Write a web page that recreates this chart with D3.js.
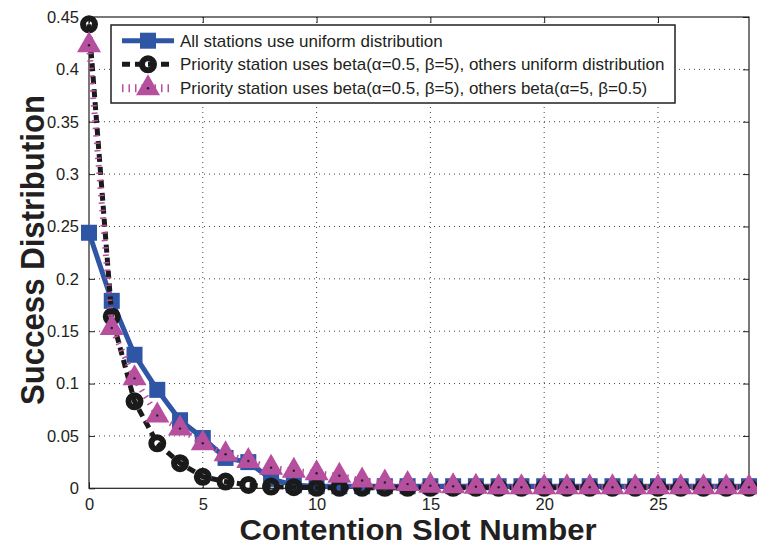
<!DOCTYPE html>
<html><head><meta charset="utf-8">
<script src="https://cdn.jsdelivr.net/npm/d3@7"></script>
<style>body{margin:0;background:#fff}svg{display:block}text{font-family:"Liberation Sans",Arial,sans-serif;fill:#231f20}</style>
</head><body>
<script>
const slots = [0,1,2,3,4,5,6,7,8,9,10,11,12,13,14,15,16,17,18,19,20,21,22,23,24,25,26,27,28,29];
const uniformAll = [0.244,0.179,0.1275,0.094,0.065,0.048,0.029,0.025,0.009,0.003,0.002,0.002,0.002,0.002,0.002,0.002,0.002,0.002,0.002,0.002,0.002,0.002,0.002,0.002,0.002,0.002,0.002,0.002,0.002,0.002];
const betaPriorityUniform = [0.443,0.164,0.083,0.043,0.024,0.011,0.0064,0.0032,0.0016,0.001,0.0005,0.0005,0.0005,0.0005,0.0005,0.0005,0.0005,0.0005,0.0005,0.0005,0.0005,0.0005,0.0005,0.0005,0.0005,0.0005,0.0005,0.0005,0.0005,0.0005];
const betaPriorityBeta = [0.423,0.153,0.105,0.0695,0.057,0.043,0.0325,0.026,0.0197,0.0168,0.0143,0.012,0.0075,0.0055,0.004,0.0025,0.002,0.0015,0.001,0.001,0.001,0.001,0.001,0.001,0.001,0.001,0.001,0.001,0.001,0.001];
const legendLabels = [
  "All stations use uniform distribution",
  "Priority station uses beta(\u03B1=0.5, \u03B2=5), others uniform distribution",
  "Priority station uses beta(\u03B1=0.5, \u03B2=5), others beta(\u03B1=5, \u03B2=0.5)"
];
const xTicks = [0,5,10,15,20,25];
const yTicks = [0,0.05,0.1,0.15,0.2,0.25,0.3,0.35,0.4,0.45];
const xTitle = "Contention Slot Number";
const yTitle = "Success Distribution";

const W = 757, H = 547;
const L = 89, R = 749, T = 17, B = 488.3;
const svg = d3.select("body").append("svg").attr("width", W).attr("height", H);
const x = d3.scaleLinear().domain([0, 29]).range([L, R]);
const y = d3.scaleLinear().domain([0, 0.45]).range([B, T]);

// grid
const grid = svg.append("g").attr("stroke", "#444").attr("stroke-width", 1).attr("stroke-dasharray", "1,4");
xTicks.filter(d => d > 0).forEach(d => grid.append("line").attr("x1", x(d)).attr("x2", x(d)).attr("y1", T).attr("y2", B));
yTicks.filter(d => d > 0 && d < 0.45).forEach(d => grid.append("line").attr("x1", L).attr("x2", R).attr("y1", y(d)).attr("y2", y(d)));

// axes
const fmt = d => d === 0 ? "0" : String(+d.toFixed(2));
const xAxisB = d3.axisBottom(x).tickValues(xTicks).tickSizeInner(-6).tickSizeOuter(0).tickPadding(10).tickFormat(fmt);
const xAxisT = d3.axisTop(x).tickValues(xTicks).tickSizeInner(-6).tickSizeOuter(0).tickFormat("");
const yAxisL = d3.axisLeft(y).tickValues(yTicks).tickSizeInner(-6).tickSizeOuter(0).tickPadding(10).tickFormat(fmt);
const yAxisR = d3.axisRight(y).tickValues(yTicks).tickSizeInner(-6).tickSizeOuter(0).tickFormat("");
function styleAxis(g){ g.select(".domain").remove(); g.selectAll("line").attr("stroke","#231f20").attr("stroke-width",1); g.selectAll("text").style("font-family","Liberation Sans, Arial, sans-serif").style("font-size","16.5px").attr("fill","#231f20"); }
svg.append("g").attr("transform", `translate(0,${B})`).call(xAxisB).call(styleAxis);
svg.append("g").attr("transform", `translate(0,${T})`).call(xAxisT).call(styleAxis);
svg.append("g").attr("transform", `translate(${L},0)`).call(yAxisL).call(styleAxis);
svg.append("g").attr("transform", `translate(${R},0)`).call(yAxisR).call(styleAxis);
svg.append("rect").attr("x", L).attr("y", T).attr("width", R - L).attr("height", B - T).attr("fill", "none").attr("stroke", "#231f20").attr("stroke-width", 1.2);

// titles
svg.append("text").attr("x", (L + R) / 2 - 1).attr("y", 540).attr("text-anchor", "middle")
  .attr("font-weight", "bold").attr("font-size", 30).attr("textLength", 357).attr("lengthAdjust", "spacingAndGlyphs").text(xTitle);
svg.append("text").attr("transform", "translate(44,250) rotate(-90)").attr("text-anchor", "middle")
  .attr("font-weight", "bold").attr("font-size", 34).attr("textLength", 310).attr("lengthAdjust", "spacingAndGlyphs").text(yTitle);

const blue = "#2F55A5", black = "#1a1a1a", mag = "#B64F9E";
const line = d3.line().x((d, i) => x(slots[i])).y(d => y(d));
const tri = (cx, cy) => { const w = 12, h = 21; return `M${cx},${cy - 2*h/3}L${cx + w},${cy + h/3}L${cx - w},${cy + h/3}Z`; };

// series 1: blue squares
const s1 = svg.append("g");
s1.append("path").attr("d", line(uniformAll)).attr("fill", "none").attr("stroke", blue).attr("stroke-width", 5).attr("stroke-linejoin", "round");
s1.selectAll("rect").data(uniformAll).join("rect").attr("x", (d, i) => x(slots[i]) - 8).attr("y", d => y(d) - 8).attr("width", 16).attr("height", 16).attr("fill", blue);
// series 2: black circles dashed
const s2 = svg.append("g");
s2.append("path").attr("d", line(betaPriorityUniform)).attr("fill", "none").attr("stroke", black).attr("stroke-width", 5).attr("stroke-dasharray", "8,5");
s2.selectAll("circle").data(betaPriorityUniform).join("circle").attr("cx", (d, i) => x(slots[i])).attr("cy", d => y(d)).attr("r", 6).attr("fill", "none").attr("stroke", black).attr("stroke-width", 6);
// series 3: magenta triangles dotted
const s3 = svg.append("g");
s3.append("path").attr("d", line(betaPriorityBeta)).attr("fill", "none").attr("stroke", mag).attr("stroke-width", 6).attr("stroke-dasharray", "1.5,6");
s3.selectAll("path.m").data(betaPriorityBeta).join("path").attr("class", "m").attr("d", (d, i) => tri(x(slots[i]), y(d))).attr("fill", mag);
s3.selectAll("circle").data(betaPriorityBeta).join("circle").attr("cx", (d, i) => x(slots[i])).attr("cy", d => y(d)).attr("r", 1.2).attr("fill", "#222");

// legend
const lg = svg.append("g");
lg.append("rect").attr("x", 111).attr("y", 25).attr("width", 564).attr("height", 78).attr("fill", "#fff").attr("stroke", "#231f20").attr("stroke-width", 1.5);
const rows = [40.7, 64.3, 88.3];
const lx1 = 122, lx2 = 174, lm = 148;
lg.append("line").attr("x1", lx1).attr("x2", lx2).attr("y1", rows[0]).attr("y2", rows[0]).attr("stroke", blue).attr("stroke-width", 5);
lg.append("rect").attr("x", lm - 8).attr("y", rows[0] - 8).attr("width", 16).attr("height", 16).attr("fill", blue);
lg.append("line").attr("x1", lx1).attr("x2", lx2).attr("y1", rows[1]).attr("y2", rows[1]).attr("stroke", black).attr("stroke-width", 5).attr("stroke-dasharray", "8,5");
lg.append("circle").attr("cx", lm).attr("cy", rows[1]).attr("r", 6).attr("fill", "none").attr("stroke", black).attr("stroke-width", 6);
lg.append("line").attr("x1", lx1).attr("x2", lx2).attr("y1", rows[2]).attr("y2", rows[2]).attr("stroke", mag).attr("stroke-width", 8).attr("stroke-dasharray", "1.5,5");
lg.append("path").attr("d", tri(lm, rows[2])).attr("fill", mag);
lg.append("circle").attr("cx", lm).attr("cy", rows[2]).attr("r", 1.2).attr("fill", "#222");
legendLabels.forEach((t, i) => lg.append("text").attr("x", 180).attr("y", rows[i] + 6).attr("font-size", 17).text(t));
</script>
</body></html>
